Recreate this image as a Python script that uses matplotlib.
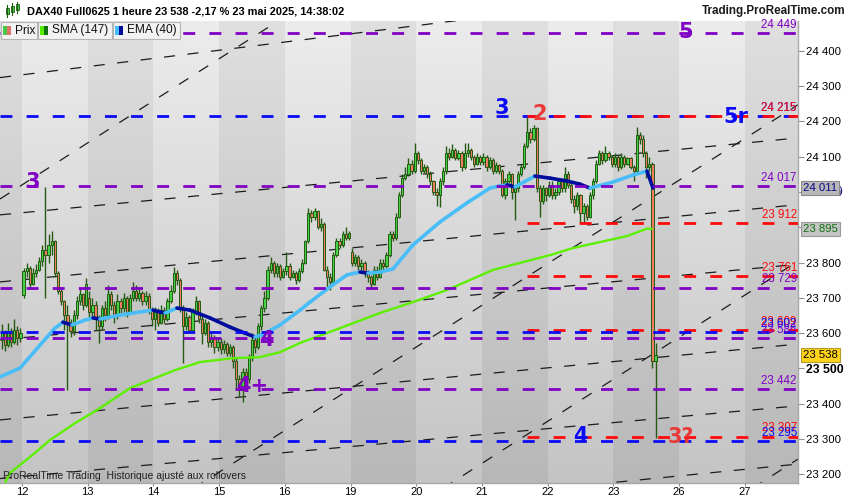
import matplotlib
matplotlib.use("Agg")
import matplotlib.pyplot as plt
from matplotlib.patches import Rectangle
from matplotlib.collections import LineCollection
import matplotlib.transforms as mtransforms
import numpy as np

plt.rcParams['font.family'] = ['Liberation Sans', 'DejaVu Sans']
plt.rcParams['lines.scale_dashes'] = False

# ---------------- data ----------------
BARS_PER_DAY = 21
tick_days = list(range(12))
tick_labels = ["12", "13", "14", "15", "16", "19", "20", "21", "22", "23", "26", "27"]

# hourly candles, one block per session (day index, first slot, open of first bar)
sess_day = [-1, 0, 1, 2, 3, 4, 5, 6, 7, 8, 9]
sess_first_slot = [14, 0, 0, 0, 0, 0, 0, 0, 0, 0, 0]
sess_open = [23580, 23708, 23700, 23640, 23575, 23775, 23830, 24110, 24085, 23990, 24080]

sess_close = [
    [23600, 23565, 23605, 23575, 23610, 23585, 23600],
    [23775, 23785, 23740, 23770, 23780, 23805, 23835, 23820, 23850, 23860, 23770,
     23720, 23690, 23650, 23630, 23605, 23650, 23690, 23710, 23680, 23740],
    [23660, 23680, 23640, 23620, 23670, 23650, 23710, 23680, 23650, 23690, 23670,
     23700, 23660, 23700, 23720, 23700, 23715, 23690, 23705, 23665, 23640],
    [23660, 23630, 23665, 23640, 23690, 23720, 23770, 23750, 23670, 23620, 23645,
     23610, 23660, 23690, 23640, 23600, 23630, 23575, 23585, 23560, 23575],
    [23555, 23570, 23545, 23560, 23520, 23470, 23440, 23490, 23470, 23530, 23580,
     23560, 23620, 23670, 23700, 23780, 23800, 23770, 23790, 23760, 23775],
    [23790, 23760, 23770, 23750, 23775, 23800, 23860, 23940, 23930, 23945, 23900,
     23910, 23780, 23760, 23745, 23820, 23860, 23850, 23880, 23870, 23885],
    [23800, 23815, 23790, 23800, 23770, 23760, 23740, 23780, 23760, 23800, 23790,
     23820, 23880, 23870, 23930, 23990, 24040, 24050, 24080, 24060, 24110],
    [24090, 24060, 24070, 24050, 24030, 24000, 23990, 24030, 24060, 24110, 24100,
     24120, 24095, 24110, 24070, 24110, 24120, 24100, 24080, 24100, 24085],
    [24100, 24070, 24090, 24060, 24075, 24060, 23990, 24030, 24050, 24000, 24010,
     24050, 24070, 24130, 24170, 24150, 24180, 24010, 23975, 24010, 23990],
    [24020, 23990, 24000, 24030, 24010, 24050, 24020, 23980, 23960, 23990, 23940,
     23960, 23930, 23990, 24030, 24080, 24110, 24090, 24110, 24100, 24080],
    [24100, 24070, 24100, 24080, 24095, 24070, 24060, 24160, 24150, 24110, 24070,
     24080, 23520, 23538],
]
sess_high = [
    [23625, 23610, 23630, 23615, 23640, 23620, 23615],
    [23785, 23800, 23790, 23785, 23795, 23815, 23850, 24014, 23880, 23890, 23865,
     23775, 23725, 23695, 23680, 23640, 23665, 23705, 23725, 23715, 23755],
    [23720, 23700, 23690, 23650, 23680, 23690, 23735, 23720, 23690, 23710, 23700,
     23715, 23705, 23710, 23745, 23735, 23725, 23720, 23720, 23715, 23675],
    [23675, 23670, 23680, 23675, 23700, 23735, 23787, 23780, 23755, 23680, 23660,
     23650, 23670, 23705, 23695, 23650, 23640, 23635, 23600, 23595, 23590],
    [23585, 23580, 23575, 23570, 23565, 23530, 23480, 23500, 23500, 23540, 23600,
     23590, 23630, 23680, 23720, 23790, 23815, 23805, 23800, 23795, 23785],
    [23830, 23800, 23780, 23775, 23785, 23810, 23865, 23955, 23950, 23955, 23950,
     23925, 23915, 23790, 23770, 23830, 23870, 23870, 23890, 23900, 23890],
    [23840, 23825, 23820, 23810, 23805, 23780, 23765, 23790, 23790, 23810, 23810,
     23830, 23890, 23890, 23940, 24000, 24050, 24070, 24095, 24090, 24138],
    [24115, 24095, 24080, 24075, 24060, 24035, 24010, 24040, 24070, 24130, 24125,
     24135, 24125, 24120, 24115, 24140, 24140, 24125, 24105, 24110, 24105],
    [24110, 24105, 24100, 24095, 24085, 24080, 24065, 24040, 24060, 24055, 24020,
     24060, 24080, 24140, 24212, 24180, 24190, 24185, 24020, 24020, 24015],
    [24030, 24030, 24010, 24040, 24040, 24070, 24060, 24030, 23990, 24000, 23995,
     23970, 23965, 24000, 24040, 24090, 24120, 24115, 24130, 24115, 24105],
    [24110, 24105, 24110, 24105, 24100, 24100, 24075, 24185, 24170, 24160, 24115,
     24100, 24085, 23572],
]
sess_low = [
    [23555, 23550, 23560, 23560, 23570, 23565, 23575],
    [23700, 23760, 23730, 23735, 23760, 23775, 23790, 23700, 23800, 23820, 23760,
     23710, 23680, 23610, 23440, 23590, 23595, 23640, 23680, 23665, 23675],
    [23640, 23645, 23610, 23572, 23610, 23635, 23640, 23665, 23630, 23640, 23650,
     23660, 23645, 23655, 23690, 23690, 23690, 23680, 23680, 23655, 23620],
    [23610, 23620, 23625, 23630, 23635, 23685, 23715, 23735, 23660, 23515, 23610,
     23600, 23605, 23650, 23630, 23570, 23595, 23560, 23560, 23545, 23550],
    [23540, 23545, 23535, 23535, 23500, 23440, 23420, 23405, 23450, 23460, 23520,
     23545, 23555, 23610, 23660, 23695, 23770, 23760, 23760, 23750, 23755],
    [23765, 23750, 23755, 23740, 23745, 23770, 23795, 23855, 23915, 23920, 23895,
     23890, 23775, 23730, 23722, 23740, 23815, 23840, 23845, 23865, 23865],
    [23790, 23790, 23780, 23780, 23760, 23745, 23725, 23735, 23750, 23755, 23780,
     23785, 23815, 23860, 23865, 23925, 23985, 24035, 24045, 24050, 24055],
    [24080, 24050, 24055, 24040, 24020, 23990, 23960, 23957, 24020, 24050, 24090,
     24095, 24090, 24090, 24060, 24065, 24100, 24090, 24070, 24075, 24075],
    [24075, 24060, 24065, 24050, 24055, 24050, 23985, 23980, 24025, 23980, 23920,
     24000, 24045, 24065, 24125, 24140, 24145, 24000, 23930, 23965, 23975],
    [23985, 23980, 23980, 23990, 24000, 24000, 24010, 23970, 23940, 23950, 23912,
     23912, 23920, 23925, 23980, 24025, 24075, 24080, 24085, 24090, 24070],
    [24070, 24060, 24065, 24070, 24075, 24065, 24030, 24055, 24135, 24100, 24040,
     24060, 23500, 23303],
]

# EMA(40) and SMA(147) (x in days since 12 May)
ema_x = [-0.335, -0.030, 0.274, 0.502, 0.624, 0.761, 0.959, 1.081, 1.187, 1.492,
         1.796, 1.994, 2.100, 2.177, 2.359, 2.557, 2.861, 3.166, 3.394, 3.546,
         3.653, 3.927, 4.231, 4.384, 4.688, 4.947, 5.145, 5.266, 5.449, 5.647,
         5.951, 6.362, 6.773, 7.123, 7.275, 7.382, 7.504, 7.580, 7.808, 8.037,
         8.295, 8.493, 8.645, 8.995, 9.300, 9.513, 9.604]
ema_y = [23476, 23501, 23566, 23614, 23631, 23623, 23637, 23643, 23640, 23651,
         23660, 23665, 23660, 23657, 23671, 23665, 23643, 23617, 23600, 23589,
         23595, 23623, 23665, 23688, 23731, 23765, 23773, 23770, 23773, 23782,
         23850, 23915, 23969, 24011, 24017, 24020, 24014, 24022, 24045, 24039,
         24031, 24022, 24011, 24028, 24048, 24059, 24011]
sma_x = [-0.259, -0.183, 0.122, 0.426, 0.807, 1.142, 1.416, 1.644, 1.948, 2.329,
         2.709, 3.212, 3.623, 3.927, 4.231, 4.840, 5.449, 5.951, 6.469, 7.169,
         7.580, 8.037, 8.387, 8.798, 9.209, 9.513, 9.589]
sma_y = [23175, 23204, 23249, 23297, 23345, 23382, 23416, 23444, 23467, 23495,
         23518, 23529, 23532, 23546, 23572, 23614, 23657, 23688, 23722, 23779,
         23799, 23821, 23841, 23858, 23875, 23896, 23895]

# horizontal levels: price, colour key, first day
level_price = [24449, 24215, 24215, 24017, 23912, 23761, 23729, 23609, 23602, 23586, 23442, 23307, 23295]
level_kind = ["p", "b", "r", "p", "r", "r", "p", "r", "b", "p", "p", "r", "b"]
level_start = [None, None, 7.686, None, 7.686, 7.686, None, 7.686, None, None, None, 7.686, None]

# dashed trendlines: (day, price) -> (day, price)
trend_x0 = [-0.335] * 11
trend_x1 = [11.811] * 11
trend_p0 = [24324, 23935, 23745, 23581, 23354, 23188, 23003, 23980, 22812, 22357, 21797]
trend_p1 = [24606, 24153, 23964, 23795, 23569, 23394, 23229, 25427, 24247, 23804, 23243]

# wave annotations
wave_text = ["5", "3", "2", "5r", "3", "4", "4+", "4", "3?"]
wave_x = [10.106, 7.306, 7.884, 10.868, 0.167, 3.714, 3.501, 8.493, 10.03]
wave_y = [24453, 24238, 24221, 24212, 24028, 23580, 23450, 23308, 23306]
wave_kind = ["p", "b", "r2", "b", "p", "p", "p", "b", "r2"]

last_price = 23538
ema_last = 24011
sma_last = 23895

COL = {"p": "#8000c4", "b": "#0a0af5", "r": "#ff0a0a", "r2": "#e83a3a"}

# ---------------- figure ----------------
W, H = 850, 500
fig = plt.figure(figsize=(W / 100, H / 100), dpi=100)
fig.patch.set_facecolor("white")

def fx(px):
    return px / W

def fy(py):
    return 1 - py / H

ax = fig.add_axes([0, fy(483), fx(798), fy(21) - fy(483)])
XMIN, XMAX = -0.335, 11.811
YMIN, YMAX = 23175.3, 24484.3

# day bands with vertical gradient
for k in range(-1, 12):
    if k % 2 == 0:
        top, bot = 0.925, 0.77
    else:
        top, bot = 0.875, 0.72
    g = np.linspace(top, bot, 64)[:, None, None] * np.ones((1, 1, 3))
    ax.imshow(g, extent=[k, k + 1, YMIN, YMAX], aspect="auto",
              origin="upper", zorder=0, interpolation="bilinear")

# trendlines
for x0, p0, x1, p1 in zip(trend_x0, trend_p0, trend_x1, trend_p1):
    ax.plot([x0, x1], [p0, p1], color="#1c1c1c", lw=0.9,
            linestyle=(0, (8, 9)), zorder=2)

# candles
bw = 0.72 / BARS_PER_DAY
for d, s0, o0, cl, hi, lo in zip(sess_day, sess_first_slot, sess_open,
                                  sess_close, sess_high, sess_low):
    o = o0
    for i, (c, h, l) in enumerate(zip(cl, hi, lo)):
        x = d + (s0 + i + 0.5) / BARS_PER_DAY
        ax.vlines(x, l, h, color="#245a12", lw=1.0, zorder=3)
        up = c >= o
        ax.bar(x, max(abs(c - o), 3), bottom=min(o, c), width=bw,
               color="#46d246" if up else "#f07a62", edgecolor="#245a12",
               linewidth=0.7, zorder=4)
        o = c

# SMA
ax.plot(sma_x, sma_y, color="#5cf000", lw=1.7, zorder=5, solid_capstyle="round")

# EMA coloured by slope
pts = np.column_stack([ema_x, ema_y])
segs = np.stack([pts[:-1], pts[1:]], axis=1)
cols = ["#000c9c" if b < a else "#48bdf7" for a, b in zip(ema_y[:-1], ema_y[1:])]
ax.add_collection(LineCollection(segs, colors=cols, linewidths=2.6, zorder=6,
                                 capstyle="round"))

# horizontal levels and their labels
lbl_tr = mtransforms.blended_transform_factory(ax.transAxes, ax.transData)
for p, kd, st in zip(level_price, level_kind, level_start):
    x0 = XMIN if st is None else st
    ax.plot([x0, XMAX], [p, p], color=COL[kd], lw=2.0,
            linestyle=(0, (8.6, 10.2)), zorder=7)
    ax.text(0.9985, p + 6, f"{p:,}".replace(",", " "), transform=lbl_tr,
            ha="right", va="bottom", fontsize=8.3, color=COL[kd], zorder=8)

# wave labels
for t, x, y, kd in zip(wave_text, wave_x, wave_y, wave_kind):
    ax.text(x, y, t, color=COL[kd], fontsize=15, fontweight="bold",
            ha="center", va="center", zorder=9,
            family=["DejaVu Sans"])

ax.set_xlim(XMIN, XMAX)
ax.set_ylim(YMIN, YMAX)

# axes styling
for sp in ["left", "top"]:
    ax.spines[sp].set_visible(False)
for sp in ["right", "bottom"]:
    ax.spines[sp].set_color("#a8a8a8")
    ax.spines[sp].set_linewidth(1.0)
ax.yaxis.tick_right()
yt = list(range(23200, 24401, 100))
ax.set_yticks(yt)
ax.set_yticklabels([f"{v:,}".replace(",", " ") for v in yt], fontsize=8.2)
for lab, v in zip(ax.get_yticklabels(), yt):
    if v == 23500:
        lab.set_fontweight("bold")
        lab.set_fontsize(8.8)
ax.set_xticks(tick_days)
ax.set_xticklabels(tick_labels, fontsize=8.0)
ax.tick_params(axis="y", length=4, width=0.8, color="#909090", pad=2)
ax.tick_params(axis="x", length=2.5, width=0.8, color="#909090", pad=0.5)

# value boxes on the price scale
box_x = 1.0065
ax.text(box_x, ema_last, f"{ema_last:,}".replace(",", " "), transform=lbl_tr,
        ha="left", va="center", fontsize=8.2, color="#0a0a8a", zorder=10,
        bbox=dict(boxstyle="square,pad=0.15", fc="#b8b8b8", ec="#8a8a8a", lw=0.8),
        clip_on=False)
ax.text(1.0515, ema_last - 8, ")", transform=lbl_tr, ha="left", va="center",
        fontsize=8.2, color="#0a0a8a", clip_on=False)
ax.text(box_x, sma_last, f"{sma_last:,}".replace(",", " "), transform=lbl_tr,
        ha="left", va="center", fontsize=8.2, color="#107010", zorder=10,
        bbox=dict(boxstyle="square,pad=0.15", fc="#c4c4c4", ec="#9a9a9a", lw=0.8),
        clip_on=False)
ax.text(box_x, last_price, f"{last_price:,}".replace(",", " "), transform=lbl_tr,
        ha="left", va="center", fontsize=8.2, color="black", zorder=10,
        bbox=dict(boxstyle="square,pad=0.15", fc="#ffd21a", ec="#b09a30", lw=0.8),
        clip_on=False)

# title bar
fig.text(fx(27), fy(11), "DAX40 Full0625 1 heure 23 538 -2,17 % 23 mai 2025, 14:38:02",
         fontsize=7.9, fontweight="bold", va="center", ha="left")
fig.text(fx(846), fy(11), "Trading.ProRealTime.com", fontsize=8.4,
         fontweight="bold", va="center", ha="right", color="#1a1a1a")
for cx, b0, b1, w0, w1 in [(7, 8, 14, 5, 17), (12, 6, 12, 3, 15), (17, 4, 10, 2, 13)]:
    fig.add_artist(plt.Line2D([fx(cx), fx(cx)], [fy(w1), fy(w0)],
                              color="#1e5a10", lw=0.8))
    fig.add_artist(Rectangle((fx(cx - 1.5), fy(b1)), fx(3), fy(b0) - fy(b1),
                             fc="#46d246", ec="#1e5a10", lw=0.6))

# legend row
legend_items = [("Prix", 1, 37, "#46c846", "#e0706a"),
                ("SMA (147)", 38, 112, "#55ee00", "#0f700f"),
                ("EMA (40)", 113, 180, "#48bdf7", "#000c9c")]
for name, x0, x1, c1, c2 in legend_items:
    fig.add_artist(Rectangle((fx(x0), fy(39)), fx(x1 - x0), fy(22) - fy(39),
                             fc="#f2f2f2", ec="#b4b4b4", lw=0.8, zorder=20))
    fig.add_artist(Rectangle((fx(x0 + 2), fy(35)), fx(4), fy(26) - fy(35),
                             fc=c1, ec="none", zorder=21))
    fig.add_artist(Rectangle((fx(x0 + 6), fy(35)), fx(4), fy(26) - fy(35),
                             fc=c2, ec="none", zorder=21))
    fig.text(fx(x0 + 14), fy(30.5), name, fontsize=8.6, va="center",
             ha="left", zorder=22, color="#111111")

fig.text(fx(3), fy(476), "ProRealTime Trading  Historique ajusté aux rollovers",
         fontsize=7.5, color="#222222", va="center", ha="left")

fig.savefig("out.png", dpi=100)
